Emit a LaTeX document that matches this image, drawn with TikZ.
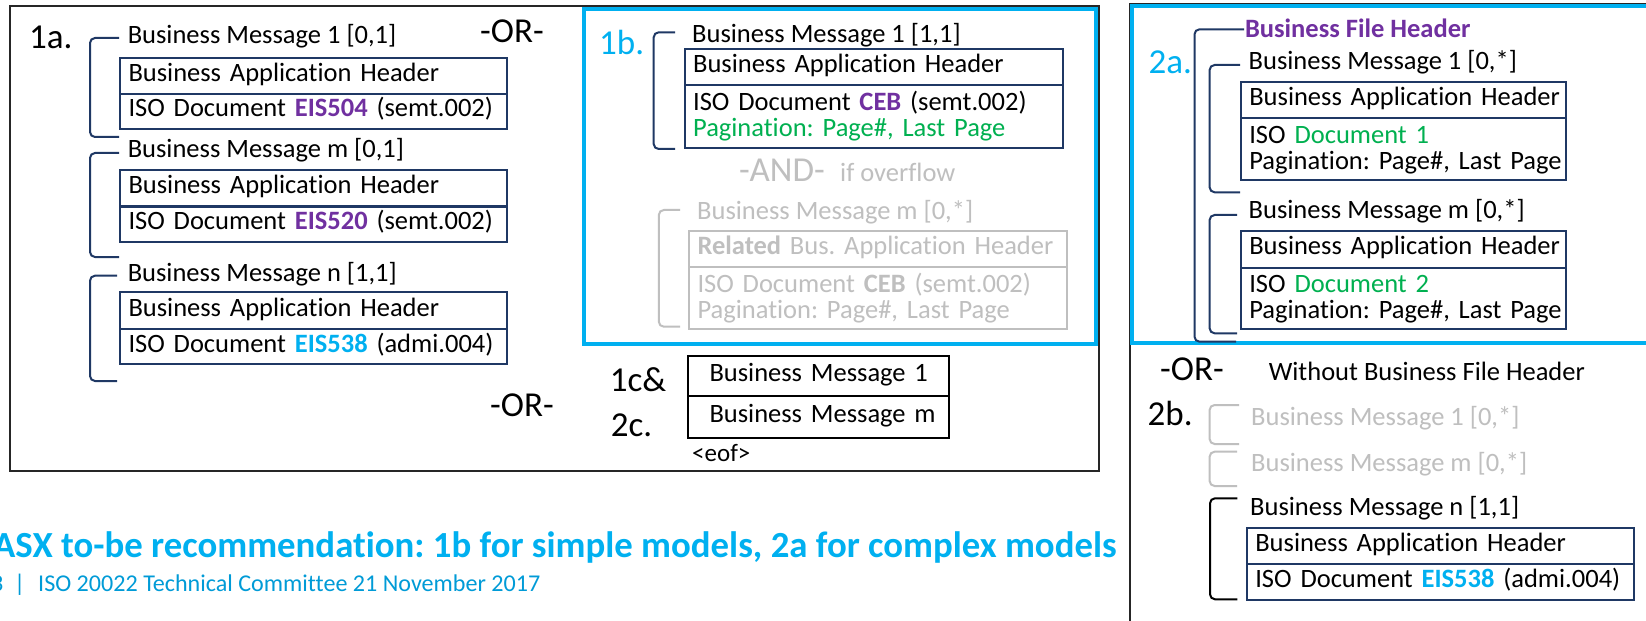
\documentclass[tikz,border=0pt]{standalone}
\usepackage{fontspec}
\setmainfont{Carlito}[Ligatures={NoCommon}]
\definecolor{navy}{RGB}{31,56,100}
\definecolor{cyanb}{RGB}{0,176,240}
\definecolor{purp}{RGB}{112,48,160}
\definecolor{grn}{RGB}{0,176,80}
\definecolor{lgrey}{RGB}{191,191,191}
\definecolor{footblue}{RGB}{0,155,215}
\frenchspacing
\tikzset{
  txt/.style={anchor=base west, inner sep=0pt, font=\fontsize{26.5bp}{26.5bp}\selectfont},
  big/.style={anchor=base west, inner sep=0pt, font=\fontsize{35bp}{35bp}\selectfont},
  msgbox/.style={draw=navy, line width=2bp, anchor=north west, inner xsep=8.5bp, inner ysep=0pt,
    text height=18bp, text depth=7bp, align=left, font=\fontsize{26.5bp}{26bp}\selectfont},
  twoline/.style={text depth=30bp},
  greybox/.style={msgbox, draw=lgrey, text=lgrey},
  plainbox/.style={msgbox, draw=black, inner xsep=21.5bp},
  brk/.style={draw=navy, line width=2bp, rounded corners=5bp},
  gbrk/.style={brk, draw=lgrey},
  kbrk/.style={brk, draw=black},
  frame/.style={draw=black!85, line width=2bp},
  bluefr/.style={draw=cyanb, line width=4bp},
  foottxt/.style={anchor=base west, inner sep=0pt, text=footblue, font=\fontsize{24.1bp}{24.1bp}\selectfont},
}
\begin{document}
\begin{tikzpicture}[x=1bp,y=-1bp]
\useasboundingbox (0,0) rectangle (1646,621);
\fill[white] (0,0) rectangle (1646,621);
% frames
\draw[frame] (10.4,6.5) rectangle (1098.5,470.5);
\draw[frame] (1129.5,4) rectangle (1700,700);
\draw[bluefr] (584,9) rectangle (1096,344);
\draw[bluefr] (1132,6.5) rectangle (1700,343);

% ---------- 1a ----------
\node[big] (l1a) at (29,48.3) {1a.};
\node[big] (or1) at (480,43) {-OR-};
\node[txt] (m1a1) at (127.6,43.3) {Business Message 1 [0,1]};
\draw[brk] (119,38) -- (90,38) -- (90,137) -- (119,137);
\node[msgbox, minimum height=36bp, text width=370bp] (h1a1) at (119,56.7) {\mbox{Business Application Header}};
\node[msgbox, minimum height=35bp, text width=370bp] (d1a1) at (119,92.7) {\mbox{ISO Document {\bfseries\color{purp}EIS504} (semt.002)}};

\node[txt] (m1am) at (127.6,158) {Business Message m [0,1]};
\draw[brk] (119,153) -- (90,153) -- (90,257) -- (119,257);
\node[msgbox, minimum height=36.5bp, text width=370bp] (h1am) at (119,169) {\mbox{Business Application Header}};
\node[msgbox, minimum height=35.5bp, text width=370bp] (d1am) at (119,205.5) {\mbox{ISO Document {\bfseries\color{purp}EIS520} (semt.002)}};

\node[txt] (m1an) at (127.6,281.7) {Business Message n [1,1]};
\draw[brk] (117,275.7) -- (90,275.7) -- (90,381) -- (117,381);
\node[msgbox, minimum height=37bp, text width=370bp] (h1an) at (119,291) {\mbox{Business Application Header}};
\node[msgbox, minimum height=35bp, text width=370bp] (d1an) at (119,328) {\mbox{ISO Document {\bfseries\color{cyanb}EIS538} (admi.004)}};

% ---------- 1b ----------
\node[big, text=cyanb] (l1b) at (599,55) {1b.};
\node[txt] (m1b1) at (692,42.7) {Business Message 1 [1,1]};
\draw[brk] (675,32.3) -- (653.7,32.3) -- (653.7,149) -- (675,149);
\node[msgbox, minimum height=35.7bp, text width=361.3bp] (h1b1) at (683.6,48.3) {\mbox{Business Application Header}};
\node[msgbox, twoline, minimum height=63.3bp, text width=361.3bp] (d1b1) at (683.6,84) {\mbox{ISO Document {\bfseries\color{purp}CEB} (semt.002)}\\\mbox{\color{grn}Pagination: Page\#, Last Page}};
\node[big, text=lgrey] (and) at (738.8,181.7) {-AND-};
\node[txt, text=lgrey] (ovf) at (840,181.7) {if overflow};
\node[txt, text=lgrey] (m1bm) at (697,220) {Business Message m [0,*]};
\draw[gbrk] (680,210) -- (658.8,210) -- (658.8,326.7) -- (680,326.7);
\node[greybox, minimum height=36bp, text width=360.7bp] (h1bm) at (688,230) {\mbox{{\bfseries Related} Bus. Application Header}};
\node[greybox, twoline, minimum height=62.3bp, text width=360.7bp] (d1bm) at (688,266) {\mbox{ISO Document {\bfseries CEB} (semt.002)}\\\mbox{Pagination: Page\#, Last Page}};

% ---------- 1c & 2c ----------
\node[big] (l1c) at (609.7,391.7) {1c\&};
\node[big] (l2c) at (610.6,436.7) {2c.};
\node[big] (or2) at (490,416.7) {-OR-};
\node[plainbox, minimum height=40bp, text width=218.4bp] (c1) at (687,355) {\mbox{Business Message 1}};
\node[plainbox, minimum height=41.7bp, text width=218.4bp] (cm) at (687,395) {\mbox{Business Message m}};
\node[anchor=base west, inner sep=0pt, font=\fontsize{25bp}{25bp}\selectfont] (eof) at (692,461) {<eof>};

% ---------- 2a ----------
\node[big, text=cyanb] (l2a) at (1148.5,73.3) {2a.};
\draw[brk] (1244,29.3) -- (1194.5,29.3) -- (1194.5,341.7) -- (1236,341.7);
\node[txt, text=purp, font=\fontsize{26.5bp}{26.5bp}\selectfont\bfseries] (bfh) at (1244.8,37.3) {Business File Header};
\node[txt] (m2a1) at (1248.5,70) {Business Message 1 [0,*]};
\draw[brk] (1240,65) -- (1209.6,65) -- (1209.6,192.3) -- (1240,192.3);
\node[msgbox, minimum height=36.6bp, text width=307.7bp] (h2a1) at (1239.8,80.7) {\mbox{Business Application Header}};
\node[msgbox, twoline, minimum height=61.7bp, text width=307.7bp] (d2a1) at (1239.8,117.3) {\mbox{ISO {\color{grn}Document 1}}\\\mbox{Pagination: Page\#, Last Page}};
\node[txt] (m2am) at (1248.5,218.3) {Business Message m [0,*]};
\draw[brk] (1237,215) -- (1209.6,215) -- (1209.6,333.3) -- (1237,333.3);
\node[msgbox, minimum height=36.7bp, text width=307.7bp] (h2am) at (1239.8,230) {\mbox{Business Application Header}};
\node[msgbox, twoline, minimum height=61bp, text width=307.7bp] (d2am) at (1239.8,266.7) {\mbox{ISO {\color{grn}Document 2}}\\\mbox{Pagination: Page\#, Last Page}};

% ---------- 2b ----------
\node[big] (or3) at (1160,380) {-OR-};
\node[txt] (wo) at (1268.6,380) {Without Business File Header};
\node[big] (l2b) at (1147.5,425) {2b.};
\draw[gbrk] (1239,405) -- (1209.6,405) -- (1209.6,444) -- (1239,444);
\node[txt, text=lgrey] (m2b1) at (1251,425) {Business Message 1 [0,*]};
\draw[gbrk] (1237,451.7) -- (1209.6,451.7) -- (1209.6,486) -- (1237,486);
\node[txt, text=lgrey] (m2bm) at (1251,471) {Business Message m [0,*]};
\draw[kbrk] (1237.4,498.3) -- (1210,498.3) -- (1210,599.3) -- (1237.4,599.3);
\node[txt] (m2bn) at (1250,515) {Business Message n [1,1]};
\node[msgbox, minimum height=36.6bp, text width=370.5bp] (h2bn) at (1245.8,526.7) {\mbox{Business Application Header}};
\node[msgbox, minimum height=36bp, text width=370.5bp] (d2bn) at (1245.8,563.3) {\mbox{ISO Document {\bfseries\color{cyanb}EIS538} (admi.004)}};

% ---------- footer ----------
\node[anchor=base west, inner sep=0pt, text=cyanb, font=\fontsize{36.8bp}{36.8bp}\selectfont\bfseries] (title) at (-7,557) {ASX to-be recommendation: 1b for simple models, 2a for complex models};
\node[foottxt] (pg) at (-9,591) {3};
\node[foottxt] (bar) at (14,591) {|};
\node[foottxt] (foot) at (38,591) {ISO 20022 Technical Committee 21 November 2017};
\end{tikzpicture}
\end{document}
